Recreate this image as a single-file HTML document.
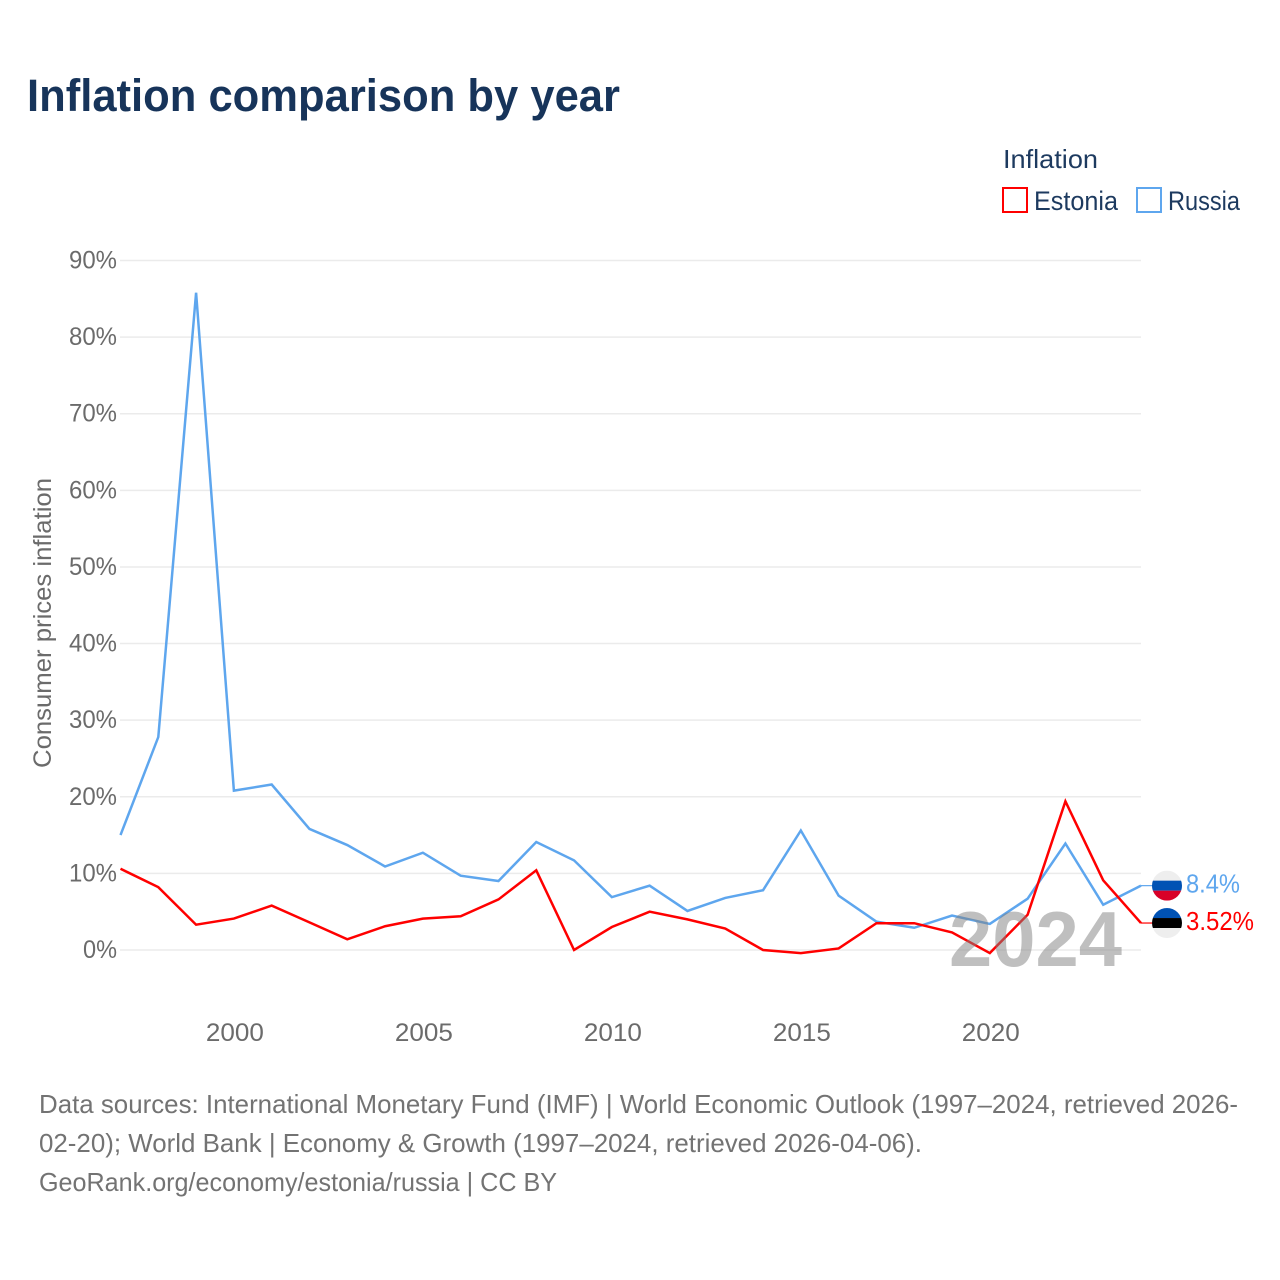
<!DOCTYPE html>
<html lang="en">
<head>
<meta charset="utf-8">
<title>Inflation comparison by year</title>
<style>
html,body{margin:0;padding:0;background:#fff;width:1280px;height:1280px;overflow:hidden}
svg{display:block}
text{font-family:"Liberation Sans",sans-serif}
</style>
</head>
<body>
<svg id="chart" width="1280" height="1280" viewBox="0 0 1280 1280" xmlns="http://www.w3.org/2000/svg">
  <text x="27" y="111" font-size="45" font-weight="700" fill="#17345a" textLength="593" lengthAdjust="spacingAndGlyphs">Inflation comparison by year</text>

  <g>
    <text x="1003" y="168" font-size="26" fill="#1d3a5f" textLength="95" lengthAdjust="spacingAndGlyphs">Inflation</text>
    <rect x="1003" y="188" width="24" height="24" fill="#fff" stroke="#ff0000" stroke-width="2"/>
    <text x="1034" y="210" font-size="27" fill="#1d3a5f" textLength="84" lengthAdjust="spacingAndGlyphs">Estonia</text>
    <rect x="1137" y="188" width="24" height="24" fill="#fff" stroke="#5ea6ee" stroke-width="2"/>
    <text x="1168" y="210" font-size="27" fill="#1d3a5f" textLength="72" lengthAdjust="spacingAndGlyphs">Russia</text>
  </g>

  <text transform="translate(51,623) rotate(-90)" text-anchor="middle" font-size="25" fill="#6b6b6b" textLength="290" lengthAdjust="spacingAndGlyphs">Consumer prices inflation</text>

  <g id="grid"></g>
  <g id="yticks"></g>
  <g id="xticks"></g>
  <g id="series"></g>

  <text x="949" y="966" font-size="78" font-weight="700" fill="#808080" fill-opacity="0.5" textLength="173" lengthAdjust="spacingAndGlyphs">2024</text>

  <g id="ends"></g>

  <g font-size="26" fill="#737373">
    <text x="39" y="1113" textLength="1199" lengthAdjust="spacingAndGlyphs">Data sources: International Monetary Fund (IMF) | World Economic Outlook (1997–2024, retrieved 2026-</text>
    <text x="39" y="1152" textLength="883" lengthAdjust="spacingAndGlyphs">02-20); World Bank | Economy &amp; Growth (1997–2024, retrieved 2026-04-06).</text>
    <text x="39" y="1191" textLength="518" lengthAdjust="spacingAndGlyphs">GeoRank.org/economy/estonia/russia | CC BY</text>
  </g>
</svg>
<script>
var years = [1997,1998,1999,2000,2001,2002,2003,2004,2005,2006,2007,2008,2009,2010,2011,2012,2013,2014,2015,2016,2017,2018,2019,2020,2021,2022,2023,2024];
var russiaValues = [15.0,27.8,85.8,20.8,21.6,15.8,13.7,10.9,12.7,9.7,9.0,14.1,11.7,6.9,8.4,5.1,6.8,7.8,15.6,7.1,3.7,2.9,4.5,3.4,6.7,13.9,5.9,8.4];
var estoniaValues = [10.6,8.2,3.3,4.1,5.8,3.6,1.4,3.1,4.1,4.4,6.6,10.4,0.0,3.0,5.0,4.0,2.8,0.0,-0.4,0.2,3.5,3.5,2.3,-0.4,4.6,19.4,9.1,3.52];
var yTickValues = [0,10,20,30,40,50,60,70,80,90];
var xTickValues = [2000,2005,2010,2015,2020];
var russiaEndLabel = "8.4%";
var estoniaEndLabel = "3.52%";

var NS = "http://www.w3.org/2000/svg";
function xScale(year){ return 120.5 + (year - 1997) * (1141 - 120.5) / 27; }
function yScale(value){ return 950 - value * (950 - 260.5) / 90; }
function make(tag, attrs, parent){
  var el = document.createElementNS(NS, tag);
  for (var k in attrs) el.setAttribute(k, attrs[k]);
  parent.appendChild(el);
  return el;
}
var grid = document.getElementById("grid");
var yticks = document.getElementById("yticks");
var xticks = document.getElementById("xticks");
var seriesGroup = document.getElementById("series");
var ends = document.getElementById("ends");

yTickValues.forEach(function(v){
  var line = make("line", {x1:120, x2:1141, y1:yScale(v), y2:yScale(v), stroke:"#ebebeb", "stroke-width":1.5}, grid);
  
  
  var label = make("text", {x:117, y:yScale(v)+8, "text-anchor":"end", "font-size":25, fill:"#6b6b6b"}, yticks);
  
  
  label.textContent = v + "%";
  label.setAttribute("textLength", v === 0 ? 34 : 48);
  label.setAttribute("lengthAdjust", "spacingAndGlyphs");
});
xTickValues.forEach(function(v){
  var label = make("text", {x:xScale(v)+1, y:1041, "text-anchor":"middle", "font-size":25, fill:"#6b6b6b"}, xticks);
  
  
  label.textContent = v;
  label.setAttribute("textLength", 58);
  label.setAttribute("lengthAdjust", "spacingAndGlyphs");
});
function points(values){
  return values.map(function(v,i){ return xScale(years[i]).toFixed(2) + "," + yScale(v).toFixed(2); }).join(" ");
}
var russiaLine = make("polyline", {points:points(russiaValues), fill:"none", stroke:"#5ea6ee", "stroke-width":2.5, "stroke-linejoin":"miter"}, seriesGroup);


var estoniaLine = make("polyline", {points:points(estoniaValues), fill:"none", stroke:"#ff0000", "stroke-width":2.5, "stroke-linejoin":"miter"}, seriesGroup);



function clipFor(id, cx, cy){
  var defs = make("defs", {}, ends);
  var cp = make("clipPath", {id:id}, defs);
  make("circle", {cx:cx, cy:cy, r:15}, cp);
}
var endX = xScale(2024);
var flagX = endX + 26;

var russiaY = yScale(russiaValues[russiaValues.length-1]);
var russiaLead = make("line", {x1:endX, x2:flagX-14, y1:russiaY, y2:russiaY, stroke:"#5ea6ee", "stroke-width":1.2}, ends);


clipFor("clip-ru", flagX, russiaY);
var ruFlag = make("g", {"clip-path":"url(#clip-ru)"}, ends);


make("rect", {x:flagX-15, y:russiaY-15, width:30, height:10, fill:"#eeeeee"}, ruFlag);
make("rect", {x:flagX-15, y:russiaY-5, width:30, height:10, fill:"#0052b4"}, ruFlag);
make("rect", {x:flagX-15, y:russiaY+5, width:30, height:10, fill:"#d80027"}, ruFlag);
var ruLabel = make("text", {x:1186, y:russiaY+7, "font-size":26, fill:"#5ea6ee", textLength:54, lengthAdjust:"spacingAndGlyphs"}, ends);


ruLabel.textContent = russiaEndLabel;

var estoniaY = yScale(estoniaValues[estoniaValues.length-1]);
var estLead = make("line", {x1:endX, x2:flagX-14, y1:estoniaY, y2:estoniaY, stroke:"#ff0000", "stroke-width":1.2}, ends);


clipFor("clip-ee", flagX, estoniaY);
var eeFlag = make("g", {"clip-path":"url(#clip-ee)"}, ends);


make("rect", {x:flagX-15, y:estoniaY-15, width:30, height:10, fill:"#0052b4"}, eeFlag);
make("rect", {x:flagX-15, y:estoniaY-5, width:30, height:10, fill:"#000000"}, eeFlag);
make("rect", {x:flagX-15, y:estoniaY+5, width:30, height:10, fill:"#eeeeee"}, eeFlag);
var eeLabel = make("text", {x:1186, y:estoniaY+7, "font-size":26, fill:"#ff0000", textLength:68, lengthAdjust:"spacingAndGlyphs"}, ends);


eeLabel.textContent = estoniaEndLabel;
</script>
</body>
</html>
